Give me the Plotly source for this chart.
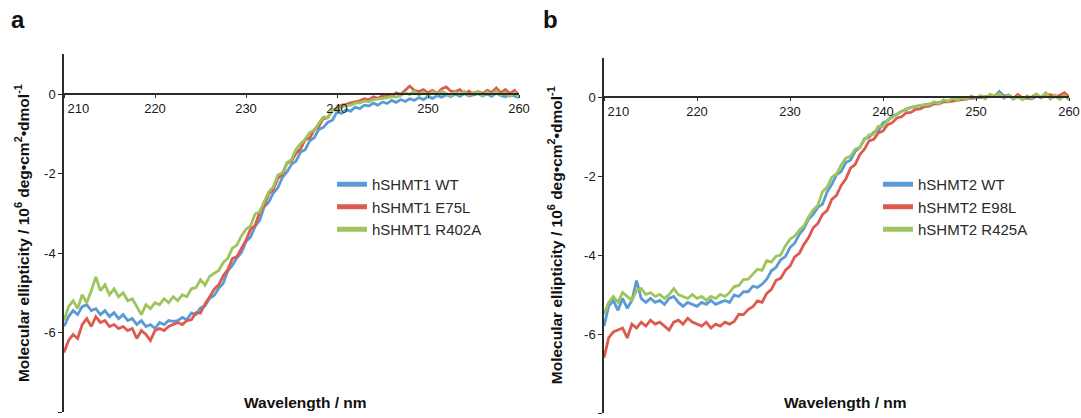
import plotly.graph_objects as go

# Far-UV CD spectra, 210-260 nm in 0.5 nm steps
WL_START, WL_STEP = 210.0, 0.5

# ---- Panel a: hSHMT1 variants (10^6 deg cm^2 dmol^-1) ----
hshmt1_wt = [
    -5.85, -5.60, -5.45, -5.55, -5.35, -5.30, -5.45, -5.40, -5.55, -5.45,
    -5.60, -5.50, -5.65, -5.55, -5.70, -5.65, -5.80, -5.70, -5.85, -5.80,
    -5.90, -5.75, -5.80, -5.70, -5.72, -5.70, -5.62, -5.68, -5.51, -5.55,
    -5.38, -5.33, -5.14, -5.07, -4.89, -4.76, -4.45, -4.31, -4.12, -3.99,
    -3.71, -3.60, -3.33, -3.18, -2.84, -2.72, -2.49, -2.36, -2.10, -1.96,
    -1.77, -1.69, -1.46, -1.40, -1.18, -1.10, -0.89, -0.84, -0.71, -0.66,
    -0.45, -0.49, -0.40, -0.43, -0.33, -0.37, -0.28, -0.30, -0.23, -0.28,
    -0.20, -0.24, -0.16, -0.21, -0.14, -0.19, -0.12, -0.16, -0.09, -0.14,
    -0.06, -0.11, -0.04, -0.08, -0.02, -0.07, 0.00, -0.06, 0.01, -0.05,
    -0.02, 0.01, -0.05, 0.00, -0.06, 0.03, -0.04, -0.07, -0.01, -0.05,
    -0.09,
]
hshmt1_e75l = [
    -6.50, -6.20, -6.05, -6.15, -5.80, -5.65, -5.85, -5.60, -5.75, -5.70,
    -5.85, -5.80, -5.90, -5.85, -5.95, -5.90, -6.15, -5.95, -6.05, -6.20,
    -5.95, -5.90, -5.95, -5.85, -5.80, -5.75, -5.80, -5.70, -5.68, -5.50,
    -5.51, -5.28, -5.11, -4.91, -4.80, -4.57, -4.42, -4.14, -4.09, -3.89,
    -3.68, -3.40, -3.31, -2.98, -2.81, -2.51, -2.40, -2.12, -2.02, -1.74,
    -1.69, -1.49, -1.38, -1.15, -1.11, -0.90, -0.81, -0.62, -0.60, -0.40,
    -0.37, -0.28, -0.26, -0.22, -0.20, -0.17, -0.12, -0.15, -0.07, -0.11,
    -0.04, -0.03, -0.07, 0.03, -0.01, 0.09, 0.20, 0.09, 0.06, 0.11,
    0.03, 0.09, 0.01, 0.13, 0.18, 0.07, 0.06, 0.11, 0.01, 0.07,
    -0.01, 0.06, 0.01, 0.09, 0.04, 0.15, 0.03, 0.11, 0.01, 0.09,
    -0.03,
]
hshmt1_r402a = [
    -5.70, -5.35, -5.20, -5.40, -5.05, -5.25, -4.95, -4.60, -4.95, -4.80,
    -5.05, -4.90, -5.10, -5.00, -5.20, -5.15, -5.35, -5.55, -5.30, -5.40,
    -5.25, -5.30, -5.15, -5.25, -5.10, -5.20, -5.05, -5.10, -4.90, -4.87,
    -4.67, -4.81, -4.59, -4.51, -4.44, -4.24, -4.13, -3.88, -3.80, -3.57,
    -3.40, -3.32, -3.02, -2.96, -2.69, -2.46, -2.34, -2.04, -1.98, -1.73,
    -1.65, -1.39, -1.25, -1.14, -0.97, -0.91, -0.74, -0.58, -0.59, -0.39,
    -0.41, -0.33, -0.29, -0.28, -0.23, -0.22, -0.18, -0.19, -0.14, -0.13,
    -0.11, -0.10, -0.06, -0.08, -0.04, 0.03, -0.01, 0.07, -0.03, 0.05,
    -0.04, 0.06, -0.01, 0.07, 0.01, -0.05, 0.05, -0.01, 0.07, -0.03,
    0.04, 0.06, -0.04, 0.05, -0.01, 0.08, -0.03, 0.04, -0.06, 0.03,
    -0.07,
]

# ---- Panel b: hSHMT2 variants ----
hshmt2_wt = [
    -5.80, -5.30, -5.15, -5.40, -5.10, -5.35, -5.15, -4.65, -5.10, -5.20,
    -5.10, -5.20, -5.15, -5.25, -5.10, -5.05, -5.20, -5.30, -5.20, -5.25,
    -5.30, -5.20, -5.25, -5.15, -5.25, -5.20, -5.15, -5.20, -5.01, -5.05,
    -4.93, -4.93, -4.79, -4.82, -4.74, -4.61, -4.40, -4.31, -4.12, -4.04,
    -3.81, -3.70, -3.48, -3.33, -3.09, -2.97, -2.79, -2.71, -2.40, -2.21,
    -1.97, -1.89, -1.66, -1.60, -1.38, -1.28, -1.06, -1.02, -0.89, -0.86,
    -0.65, -0.60, -0.48, -0.44, -0.36, -0.32, -0.26, -0.24, -0.22, -0.20,
    -0.18, -0.15, -0.13, -0.11, -0.10, -0.08, -0.07, -0.05, -0.04, -0.02,
    -0.02, 0.00, 0.00, 0.03, 0.01, 0.14, 0.03, 0.04, -0.02, 0.01,
    -0.04, -0.02, -0.05, 0.02, -0.01, 0.05, -0.02, 0.01, -0.03, 0.04,
    -0.02,
]
hshmt2_e98l = [
    -6.60, -6.10, -5.95, -5.90, -5.85, -6.10, -5.75, -5.85, -5.70, -5.80,
    -5.65, -5.75, -5.70, -5.80, -5.90, -5.70, -5.65, -5.75, -5.60, -5.70,
    -5.75, -5.80, -5.70, -5.85, -5.75, -5.80, -5.70, -5.75, -5.68, -5.50,
    -5.51, -5.38, -5.31, -5.16, -5.20, -4.97, -4.87, -4.64, -4.59, -4.39,
    -4.28, -4.05, -3.96, -3.73, -3.56, -3.31, -3.20, -2.97, -2.87, -2.59,
    -2.49, -2.24, -2.08, -1.80, -1.71, -1.46, -1.32, -1.11, -1.07, -0.91,
    -0.86, -0.70, -0.65, -0.53, -0.50, -0.40, -0.39, -0.31, -0.30, -0.24,
    -0.23, -0.17, -0.18, -0.12, -0.12, -0.10, -0.08, -0.06, -0.05, -0.03,
    -0.02, -0.01, 0.01, 0.01, 0.03, 0.09, -0.02, 0.05, -0.04, 0.06,
    -0.02, -0.03, 0.00, 0.07, -0.02, 0.05, 0.06, 0.01, 0.04, 0.11,
    0.00,
]
hshmt2_r425a = [
    -5.50, -5.20, -5.05, -5.20, -4.95, -5.05, -5.15, -4.90, -4.85, -5.00,
    -4.95, -5.05, -5.00, -5.10, -5.00, -4.85, -5.00, -5.05, -5.10, -5.00,
    -5.10, -5.05, -5.15, -5.05, -5.10, -5.00, -5.05, -4.95, -4.80, -4.77,
    -4.62, -4.61, -4.49, -4.36, -4.39, -4.14, -4.18, -4.03, -4.00, -3.77,
    -3.60, -3.52, -3.37, -3.26, -3.04, -2.86, -2.74, -2.39, -2.28, -2.03,
    -1.95, -1.72, -1.55, -1.50, -1.32, -1.28, -1.09, -0.96, -0.94, -0.74,
    -0.75, -0.58, -0.52, -0.43, -0.37, -0.30, -0.27, -0.25, -0.21, -0.20,
    -0.19, -0.12, -0.17, -0.07, -0.11, -0.03, -0.09, -0.01, -0.06, 0.03,
    -0.03, 0.04, -0.05, 0.07, 0.01, 0.09, -0.03, 0.05, -0.06, 0.01,
    -0.07, 0.03, -0.04, 0.06, -0.01, 0.11, -0.05, 0.05, -0.06, 0.04,
    -0.07,
]

names_a = ["hSHMT1 WT", "hSHMT1 E75L", "hSHMT1 R402A"]
names_b = ["hSHMT2 WT", "hSHMT2 E98L", "hSHMT2 R425A"]
series_a = [hshmt1_wt, hshmt1_e75l, hshmt1_r402a]
series_b = [hshmt2_wt, hshmt2_e98l, hshmt2_r425a]
colors = ["#5b9bd5", "#dc5a4e", "#9dc55b"]

x_ticks = [210, 220, 230, 240, 250, 260]
x_ticktext = ["\u00a0\u00a0\u00a0\u00a0\u00a0\u00a0\u00a0\u00a0210", "220", "230", "240", "250", "260"]
y_ticks = [-8, -6, -4, -2, 0]
y_ticktext = ["-8", "-6", "-4", "-2", "0"]
X_RANGE = [210, 260]
Y_RANGE = [-8, 1]

FONT = "Arial, 'Liberation Sans', Helvetica, sans-serif"
AXIS_COLOR = "#2b2b2b"
W, H = 1081, 418

def wavelengths(vals):
    return [WL_START + WL_STEP * i for i in range(len(vals))]

fig = go.Figure()
for vals, name, col in zip(series_a, names_a, colors):
    fig.add_trace(go.Scatter(x=wavelengths(vals), y=vals, name=name, mode="lines",
                             line=dict(color=col, width=2.8), xaxis="x", yaxis="y",
                             legend="legend"))
for vals, name, col in zip(series_b, names_b, colors):
    fig.add_trace(go.Scatter(x=wavelengths(vals), y=vals, name=name, mode="lines",
                             line=dict(color=col, width=2.8), xaxis="x2", yaxis="y2",
                             legend="legend2"))

# plot domains (paper fractions)
xa_dom = [64 / W, 519 / W]
xb_dom = [604 / W, 1069 / W]
ya_dom = [(H - 412) / H, (H - 54.25) / H]
yb_dom = [(H - 413) / H, (H - 57.5) / H]

def zero_position(dom):
    # paper position of y = 0 within the y-axis domain
    frac = (0 - Y_RANGE[0]) / (Y_RANGE[1] - Y_RANGE[0])
    return dom[0] + frac * (dom[1] - dom[0])

ytitle = "Molecular ellipticity / 10<sup>6</sup> deg\u2022cm<sup>2</sup>\u2022dmol<sup>-1</sup>"

def xaxis(dom, ydom):
    return dict(domain=dom, range=X_RANGE, anchor="free", position=zero_position(ydom),
                automargin=False, showline=True, linecolor=AXIS_COLOR, linewidth=1.5,
                ticks="outside", ticklen=3, tickwidth=1.2, tickcolor=AXIS_COLOR,
                tickvals=x_ticks, ticktext=x_ticktext, showgrid=False, zeroline=False,
                tickfont=dict(family=FONT, size=13, color="#1a1a1a"))

def yaxis(dom, anchor_x, standoff):
    return dict(domain=dom, range=Y_RANGE, anchor=anchor_x, automargin=False,
                showline=True, linecolor=AXIS_COLOR, linewidth=1.5, ticks="outside",
                ticklen=4, tickwidth=1.2, tickcolor=AXIS_COLOR, tickvals=y_ticks,
                ticktext=y_ticktext, showgrid=False, zeroline=False,
                tickfont=dict(family=FONT, size=13, color="#1a1a1a"),
                title=dict(text=ytitle, standoff=standoff,
                           font=dict(family=FONT, size=15.5, color="#111111",
                                     weight="bold")))

legend_common = dict(font=dict(family=FONT, size=15, color="#2a2a2a"),
                     bgcolor="rgba(0,0,0,0)", borderwidth=0, xanchor="left",
                     yanchor="top", tracegroupgap=0, itemsizing="constant")

fig.update_layout(
    width=W, height=H, margin=dict(l=0, r=0, t=0, b=0, autoexpand=False),
    paper_bgcolor="white", plot_bgcolor="white",
    font=dict(family=FONT, color="#1a1a1a"),
    xaxis=xaxis(xa_dom, ya_dom),
    yaxis=yaxis(ya_dom, "x", 11),
    xaxis2=xaxis(xb_dom, yb_dom),
    yaxis2=yaxis(yb_dom, "x2", 18),
    legend=dict(x=332 / W, y=1 - 168 / H, **legend_common),
    legend2=dict(x=878 / W, y=1 - 168 / H, **legend_common),
    showlegend=True,
)

annotations = [
    dict(text="<b>a</b>", x=9 / W, y=1 - 35 / H, xref="paper", yref="paper",
         xanchor="left", yanchor="bottom", showarrow=False,
         font=dict(family=FONT, size=24, color="#111111")),
    dict(text="<b>b</b>", x=541 / W, y=1 - 35 / H, xref="paper", yref="paper",
         xanchor="left", yanchor="bottom", showarrow=False,
         font=dict(family=FONT, size=24, color="#111111")),
    dict(text="<b>Wavelength / nm</b>", x=0.53, y=1 - 402 / H, xref="x domain",
         yref="paper", xanchor="center", yanchor="middle", showarrow=False,
         font=dict(family=FONT, size=15.5, color="#111111")),
    dict(text="<b>Wavelength / nm</b>", x=0.52, y=1 - 402 / H, xref="x2 domain",
         yref="paper", xanchor="center", yanchor="middle", showarrow=False,
         font=dict(family=FONT, size=15.5, color="#111111")),
]
fig.update_layout(annotations=annotations)

fig.write_html("out.html")
